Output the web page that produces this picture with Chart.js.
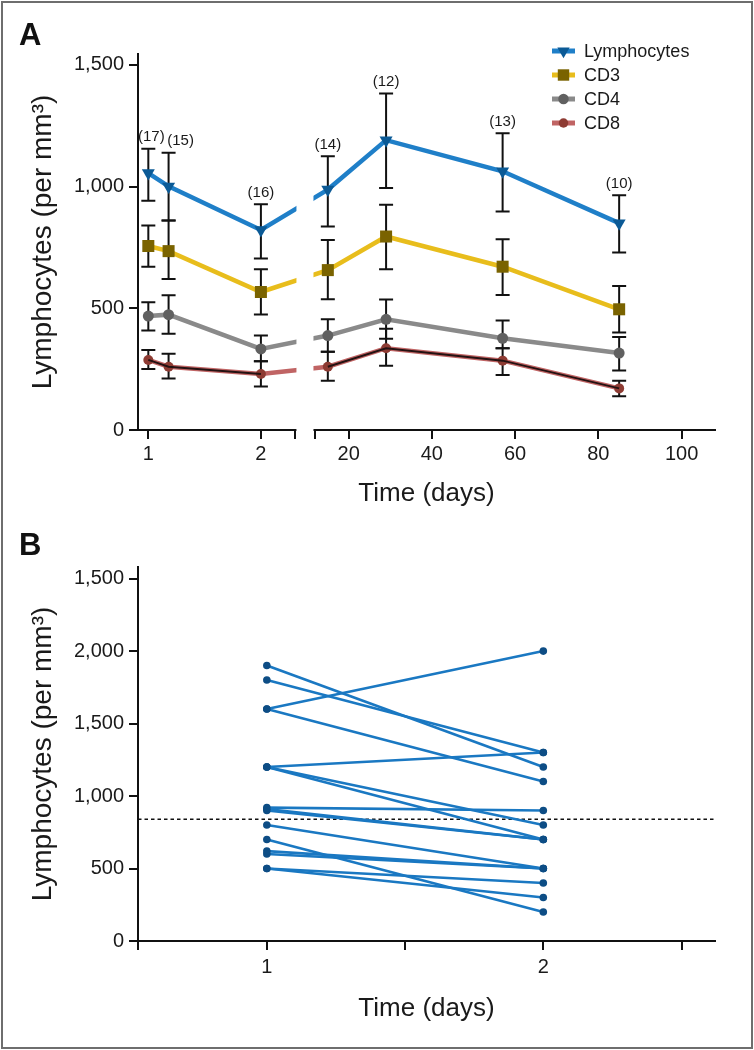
<!DOCTYPE html>
<html><head><meta charset="utf-8">
<script src="https://cdn.jsdelivr.net/npm/chart.js@4.4.1/dist/chart.umd.min.js"></script>
<style>
html,body{margin:0;padding:0;background:#fff;}
#wrap{position:relative;width:754px;height:1050px;overflow:hidden;background:#fff;}
#frame{position:absolute;left:1px;top:1px;width:748px;height:1044px;border:2px solid #6e6e6e;pointer-events:none;}
canvas{position:absolute;left:0;}
#cA{top:0;}
#cB{top:520px;}
</style></head><body>
<div id="wrap">
<canvas id="cA" width="754" height="520"></canvas>
<canvas id="cB" width="754" height="530"></canvas>
<div id="frame"></div>
</div>
<script>
// ---------------- Panel A data ----------------
const days = [1, 1.18, 2, 15, 29, 57, 85];
const nPatients = ['(17)', '(15)', '(16)', '(14)', '(12)', '(13)', '(10)'];
const lymphMean = [1056, 1001, 822, 988, 1191, 1063, 850];
const lymphLow  = [942, 861, 705, 836, 994, 898, 729];
const lymphHigh = [1156, 1139, 928, 1125, 1383, 1219, 965];
const cd3Mean = [756, 735, 567, 657, 795, 671, 496];
const cd3Low  = [671, 620, 475, 537, 661, 555, 401];
const cd3High = [840, 861, 661, 781, 926, 784, 592];
const cd4Mean = [468, 474, 333, 388, 455, 377, 316];
const cd4Low  = [409, 395, 282, 322, 375, 336, 244];
const cd4High = [525, 554, 388, 455, 536, 450, 382];
const cd8Mean = [288, 260, 230, 260, 336, 285, 171];
const cd8Low  = [251, 212, 179, 202, 264, 226, 139];
const cd8High = [329, 313, 282, 322, 416, 336, 202];
const seriesNames = ['Lymphocytes', 'CD3', 'CD4', 'CD8'];
const yTicksA = [0, 500, 1000, 1500];
const xTickDays = [1, 2, 20, 40, 60, 80, 100];
const xTickLabels = ['1', '2', '20', '40', '60', '80', '100'];

// ---------------- Panel B data ----------------
const pairDay1 = [1900, 1800, 1600, 1600, 1200, 1200, 1200, 920, 910, 900, 800, 700, 620, 600, 500, 500];
const pairDay2 = [1200, 1300, 2000, 1100, 1300, 800, 700, 900, 700, 700, 500, 200, 500, 500, 400, 300];
const thresholdValue = 840;
const yTicksB = [0, 500, 1000, 1500, 2000, 2500];
const yTickLabelsB = ['0', '500', '1,000', '1,500', '2,000', '1,500'];
const xTicksB = [1, 2];
const xTickLabelsB = ['1', '2'];

// ---------------- broken-axis mapping (panel A) ----------------
const BREAK_DAY = 5, LEFT_ORIGIN = -28.13, LEFT_SPAN = 27.05;
const axisU = d => d < BREAK_DAY ? LEFT_ORIGIN + (d - 1) * LEFT_SPAN : d;
const BREAK_L = 7.10, BREAK_R = 11.91;

const FONT = "'Liberation Sans', Arial, sans-serif";
Chart.defaults.font.family = FONT;
Chart.defaults.color = '#1a1a1a';

const styleA = [
  {line: '#1f7fc8', marker: '#0b5a96', ps: 'triangle', rot: 180, r: 7.5},
  {line: '#e8bd1c', marker: '#7a6300', ps: 'rect', rot: 0, r: 8.5},
  {line: '#8a8a8a', marker: '#606060', ps: 'circle', rot: 0, r: 5.5},
  {line: '#c06464', marker: '#8e3b33', ps: 'circle', rot: 0, r: 5}
];
const meansA = [lymphMean, cd3Mean, cd4Mean, cd8Mean];
const lowsA = [lymphLow, cd3Low, cd4Low, cd8Low];
const highsA = [lymphHigh, cd3High, cd4High, cd8High];

const datasetsA = seriesNames.map((name, s) => ({
  label: name,
  data: days.map((d, i) => ({x: axisU(d), y: meansA[s][i]})),
  errLow: lowsA[s], errHigh: highsA[s],
  borderColor: styleA[s].line, borderWidth: 4.5,
  pointStyle: styleA[s].ps, rotation: styleA[s].rot, pointRadius: styleA[s].r,
  pointBackgroundColor: styleA[s].marker, pointBorderColor: styleA[s].marker, pointBorderWidth: 0,
  showLine: true, tension: 0
}));
// dark core of the CD8 line
datasetsA.push({
  label: 'CD8core',
  data: days.map((d, i) => ({x: axisU(d), y: cd8Mean[i]})),
  borderColor: '#241212', borderWidth: 2, pointRadius: 0, showLine: true,
  segment: {borderColor: c => c.p0DataIndex === 2 ? 'rgba(0,0,0,0)' : undefined}
});
datasetsA[3].order = 2; datasetsA[4].order = 1; datasetsA[2].order = 0; datasetsA[1].order = 0; datasetsA[0].order = -1;

const errorBars = {
  id: 'errorBars',
  beforeDatasetsDraw(chart) {
    const {ctx, scales: {x, y}} = chart;
    ctx.save();
    ctx.strokeStyle = '#111'; ctx.lineWidth = 2;
    chart.data.datasets.forEach(ds => {
      if (!ds.errLow) return;
      ds.data.forEach((p, i) => {
        const px = x.getPixelForValue(p.x);
        const yl = y.getPixelForValue(ds.errLow[i]);
        const yh = y.getPixelForValue(ds.errHigh[i]);
        ctx.beginPath();
        ctx.moveTo(px, yl); ctx.lineTo(px, yh);
        ctx.moveTo(px - 7, yl); ctx.lineTo(px + 7, yl);
        ctx.moveTo(px - 7, yh); ctx.lineTo(px + 7, yh);
        ctx.stroke();
      });
    });
    ctx.restore();
  }
};

const nLabels = {
  id: 'nLabels',
  afterDatasetsDraw(chart) {
    const {ctx, scales: {x, y}} = chart;
    const shift = [3, 12, 0, 0, 0, 0, 0];
    ctx.save();
    ctx.font = '15px ' + FONT; ctx.fillStyle = '#1a1a1a';
    ctx.textAlign = 'center'; ctx.textBaseline = 'bottom';
    days.forEach((d, i) => {
      ctx.fillText(nPatients[i], x.getPixelForValue(axisU(d)) + shift[i], y.getPixelForValue(lymphHigh[i]) - 4);
    });
    ctx.restore();
  }
};

const axisBreak = {
  id: 'axisBreak',
  afterDraw(chart) {
    const {ctx, chartArea, scales: {x}} = chart;
    const x1 = x.getPixelForValue(BREAK_L) + 1.5, x2 = x.getPixelForValue(BREAK_R) - 1.5;
    ctx.save(); ctx.fillStyle = '#fff';
    ctx.fillRect(x1, chartArea.top - 2, x2 - x1, chartArea.bottom - chartArea.top + 3.5);
    ctx.restore();
  }
};

const legendA = {
  id: 'legendA',
  afterDraw(chart) {
    const {ctx} = chart;
    ctx.save();
    seriesNames.forEach((name, s) => {
      const yy = 51 + s * 24;
      ctx.strokeStyle = styleA[s].line; ctx.lineWidth = 5;
      ctx.beginPath(); ctx.moveTo(552, yy); ctx.lineTo(575, yy); ctx.stroke();
      ctx.fillStyle = styleA[s].marker;
      Chart.helpers.drawPoint(ctx, {pointStyle: styleA[s].ps, rotation: styleA[s].rot, radius: styleA[s].r * 0.95, borderWidth: 0}, 563.5, yy);
      ctx.fillStyle = '#1a1a1a'; ctx.font = '18px ' + FONT;
      ctx.textAlign = 'left'; ctx.textBaseline = 'middle';
      ctx.fillText(name, 584, yy + 1);
    });
    ctx.restore();
  }
};

function panelLetter(letter, baseline) {
  return {
    id: 'letter' + letter,
    afterDraw(chart) {
      const ctx = chart.ctx;
      ctx.save(); ctx.font = 'bold 31px ' + FONT; ctx.fillStyle = '#111';
      ctx.textBaseline = 'alphabetic'; ctx.textAlign = 'left';
      ctx.fillText(letter, 19, baseline);
      ctx.restore();
    }
  };
}

const gridOpts = {display: true, drawOnChartArea: false, drawTicks: true, tickLength: 9, color: '#111', lineWidth: 2};
const borderOpts = {display: true, color: '#111', width: 2};

new Chart(document.getElementById('cA'), {
  type: 'scatter',
  data: {datasets: datasetsA},
  options: {
    responsive: false, animation: false,
    layout: {padding: {top: 54, right: 39, left: 0, bottom: 0}},
    plugins: {legend: {display: false}, tooltip: {enabled: false}},
    scales: {
      x: {
        type: 'linear', min: -30.61, max: 108.03,
        afterBuildTicks: sc => { sc.ticks = xTickDays.map(axisU).concat([BREAK_L, BREAK_R]).map(v => ({value: v})); },
        afterFit: sc => { sc.height = 90; },
        ticks: {
          font: {size: 20}, color: '#1a1a1a', padding: 3, maxRotation: 0, autoSkip: false,
          callback: (v) => { const k = xTickDays.map(axisU).findIndex(u => Math.abs(u - v) < 1e-6); return k >= 0 ? xTickLabels[k] : ''; }
        },
        grid: gridOpts, border: borderOpts,
        title: {display: true, text: 'Time (days)', font: {size: 26}, color: '#1a1a1a', padding: {top: 0, bottom: 11}}
      },
      y: {
        type: 'linear', min: 0, max: 1545,
        afterBuildTicks: sc => { sc.ticks = yTicksA.map(v => ({value: v})); },
        afterFit: sc => { sc.width = 138; },
        ticks: {font: {size: 20}, color: '#1a1a1a', padding: 5, callback: v => v.toLocaleString('en-US')},
        grid: gridOpts, border: borderOpts,
        title: {display: true, text: 'Lymphocytes (per mm³)', font: {size: 28}, color: '#1a1a1a', padding: {top: 26, bottom: 0}}
      }
    }
  },
  plugins: [errorBars, nLabels, axisBreak, legendA, panelLetter('A', 45)]
});

// ---------------- Panel B ----------------
const datasetsB = pairDay1.map((v, i) => ({
  label: 'P' + (i + 1),
  data: [{x: 1, y: v}, {x: 2, y: pairDay2[i]}],
  showLine: true, borderColor: '#1a78c2', borderWidth: 2.6,
  pointRadius: 3.8, pointBackgroundColor: '#0d4d85', pointBorderWidth: 0
}));

const threshold = {
  id: 'threshold',
  beforeDatasetsDraw(chart) {
    const {ctx, chartArea, scales: {y}} = chart;
    const yy = y.getPixelForValue(thresholdValue);
    ctx.save(); ctx.strokeStyle = '#111'; ctx.lineWidth = 1.6; ctx.setLineDash([3.5, 3]);
    ctx.beginPath(); ctx.moveTo(chartArea.left, yy); ctx.lineTo(chartArea.right, yy); ctx.stroke();
    ctx.restore();
  }
};

new Chart(document.getElementById('cB'), {
  type: 'scatter',
  data: {datasets: datasetsB},
  options: {
    responsive: false, animation: false,
    layout: {padding: {top: 47, right: 39, left: 0, bottom: 0}},
    plugins: {legend: {display: false}, tooltip: {enabled: false}},
    scales: {
      x: {
        type: 'linear', min: 0.534, max: 2.621,
        afterBuildTicks: sc => { sc.ticks = [0.534, 1, 1.5, 2, 2.5].map(v => ({value: v})); },
        afterFit: sc => { sc.height = 109; },
        ticks: {
          font: {size: 20}, color: '#1a1a1a', padding: 5, maxRotation: 0, autoSkip: false,
          callback: v => { const k = xTicksB.indexOf(v); return k >= 0 ? xTickLabelsB[k] : ''; }
        },
        grid: gridOpts, border: borderOpts,
        title: {display: true, text: 'Time (days)', font: {size: 26}, color: '#1a1a1a', padding: {top: 0, bottom: 26}}
      },
      y: {
        type: 'linear', min: 0, max: 2580,
        afterBuildTicks: sc => { sc.ticks = yTicksB.map(v => ({value: v})); },
        afterFit: sc => { sc.width = 138; },
        ticks: {font: {size: 20}, color: '#1a1a1a', padding: 5, callback: v => { const k = yTicksB.indexOf(v); return k >= 0 ? yTickLabelsB[k] : ''; }},
        grid: gridOpts, border: borderOpts,
        title: {display: true, text: 'Lymphocytes (per mm³)', font: {size: 28}, color: '#1a1a1a', padding: {top: 26, bottom: 0}}
      }
    }
  },
  plugins: [threshold, panelLetter('B', 35)]
});
</script>
</body></html>
